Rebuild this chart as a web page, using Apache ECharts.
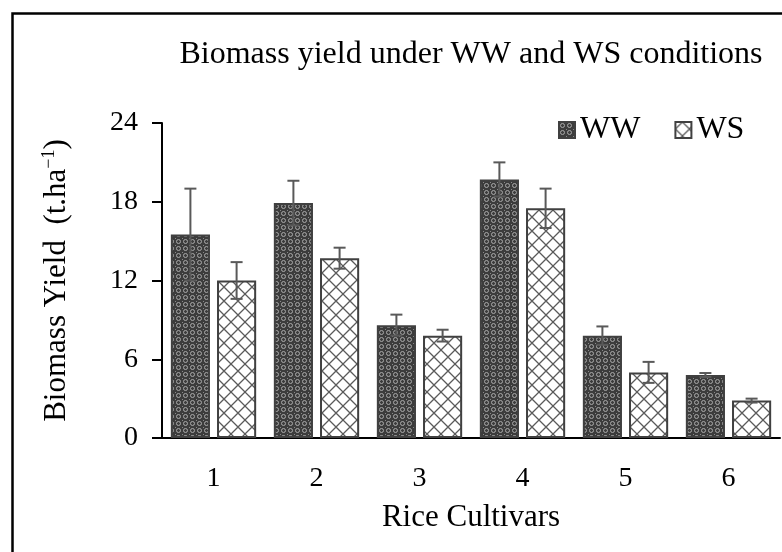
<!DOCTYPE html>
<html>
<head>
<meta charset="utf-8">
<script src="https://cdn.jsdelivr.net/npm/echarts@6/dist/echarts.min.js"></script>
<style>
  html, body { margin: 0; padding: 0; background: #fff; }
  #chart { width: 782px; height: 552px; }
</style>
</head>
<body>
<div id="chart"></div>
<script>
// values
const cultivars = ['1', '2', '3', '4', '5', '6']
const wwYield = [15.5, 17.9, 8.6, 19.7, 7.8, 4.8]
const wwErr = [3.5, 1.7, 0.8, 1.3, 0.7, 0.15]
const wsYield = [12.0, 13.7, 7.8, 17.5, 5.0, 2.85]
const wsErr = [1.4, 0.8, 0.45, 1.5, 0.8, 0.15]
const yTicks = [0, 6, 12, 18, 24]

const serif = "'Liberation Serif', 'Times New Roman', serif"

// fill patterns (canvas tiles)
function wwPattern () {
  const c = document.createElement('canvas')
  c.width = 7; c.height = 7
  const g = c.getContext('2d')
  g.fillStyle = '#3c3c3c'
  g.fillRect(0, 0, 7, 7)
  g.strokeStyle = '#a8a8a8'
  g.lineWidth = 1
  g.beginPath()
  g.arc(3.5, 3.5, 2, 0, Math.PI * 2)
  g.stroke()
  g.fillStyle = '#8a8a8a'
  g.fillRect(0, 0, 1, 1)
  return c
}
function wsPattern () {
  const c = document.createElement('canvas')
  c.width = 14; c.height = 14
  const g = c.getContext('2d')
  g.fillStyle = '#ffffff'
  g.fillRect(0, 0, 14, 14)
  g.strokeStyle = '#5a5a5a'
  g.lineWidth = 1.3
  g.beginPath()
  g.moveTo(0, 7); g.lineTo(7, 0); g.lineTo(14, 7); g.lineTo(7, 14); g.closePath()
  g.stroke()
  return c
}

const barW = 0.38
const barGap = 0.18

function errorSeries (name, vals, errs, side) {
  return {
    name: name,
    type: 'custom',
    silent: true,
    z: 10,
    data: vals.map((v, i) => [i, v - errs[i], v + errs[i]]),
    renderItem: function (params, api) {
      const band = api.size([1, 0])[0]
      const off = side * (barW * band / 2 + barGap * barW * band / 2)
      const hi = api.coord([api.value(0), api.value(2)])
      const lo = api.coord([api.value(0), api.value(1)])
      const x = hi[0] + off
      const cap = 6
      const st = { stroke: '#595959', lineWidth: 2 }
      return {
        type: 'group',
        children: [
          { type: 'line', shape: { x1: x, y1: hi[1], x2: x, y2: lo[1] }, style: st },
          { type: 'line', shape: { x1: x - cap, y1: hi[1], x2: x + cap, y2: hi[1] }, style: st },
          { type: 'line', shape: { x1: x - cap, y1: lo[1], x2: x + cap, y2: lo[1] }, style: st }
        ]
      }
    }
  }
}

const chart = echarts.init(document.getElementById('chart'), null, { renderer: 'canvas' })
chart.setOption({
  animation: false,
  backgroundColor: '#ffffff',
  textStyle: { fontFamily: serif, color: '#000' },
  graphic: [{
    type: 'rect',
    left: 10, top: 11,
    shape: { width: 820, height: 600 },
    style: { fill: 'none', stroke: '#000', lineWidth: 2.5 },
    silent: true
  }],
  title: {
    text: 'Biomass yield under WW and WS conditions',
    left: 466, top: 34,
    textAlign: 'center',
    textStyle: { fontFamily: serif, fontSize: 32, fontWeight: 'normal', color: '#000' }
  },
  legend: {
    data: ['WW', 'WS'],
    left: 553, top: 109,
    itemWidth: 16, itemHeight: 16,
    itemGap: 34,
    icon: 'rect',
    textStyle: { fontFamily: serif, fontSize: 32, color: '#000' }
  },
  grid: { left: 162, right: 2, top: 123, bottom: 114, containLabel: false },
  xAxis: {
    type: 'category',
    data: cultivars,
    name: 'Rice Cultivars',
    nameLocation: 'middle',
    nameGap: 64,
    nameTextStyle: { fontFamily: serif, fontSize: 31, color: '#000' },
    axisLine: { lineStyle: { color: '#000', width: 2 } },
    axisTick: { show: false },
    axisLabel: { margin: 27, fontFamily: serif, fontSize: 28, color: '#000' }
  },
  yAxis: {
    type: 'value',
    min: 0, max: 24, interval: 6,
    name: 'Biomass Yield  (t.ha{sup|−1})',
    nameLocation: 'middle',
    nameGap: 88,
    nameTextStyle: {
      fontFamily: serif, fontSize: 31, color: '#000',
      rich: { sup: { fontFamily: serif, fontSize: 18, color: '#000', verticalAlign: 'top', padding: [0, 0, 16, 0] } }
    },
    axisLine: { show: true, lineStyle: { color: '#000', width: 2 } },
    axisTick: { show: true, length: 10, lineStyle: { color: '#000', width: 2 } },
    splitLine: { show: false },
    axisLabel: {
      margin: 24, fontFamily: serif, fontSize: 28, color: '#000',
      formatter: v => (yTicks.indexOf(v) >= 0 ? String(v) : '')
    }
  },
  series: [
    {
      name: 'WW', type: 'bar', data: wwYield,
      barWidth: (barW * 100) + '%', barGap: (barGap * 100) + '%',
      itemStyle: { color: { image: wwPattern(), repeat: 'repeat' }, borderColor: '#404040', borderWidth: 2 }
    },
    {
      name: 'WS', type: 'bar', data: wsYield,
      barWidth: (barW * 100) + '%', barGap: (barGap * 100) + '%',
      itemStyle: { color: { image: wsPattern(), repeat: 'repeat' }, borderColor: '#404040', borderWidth: 2 }
    },
    errorSeries('WW', wwYield, wwErr, -1),
    errorSeries('WS', wsYield, wsErr, 1)
  ]
})
</script>
</body>
</html>
